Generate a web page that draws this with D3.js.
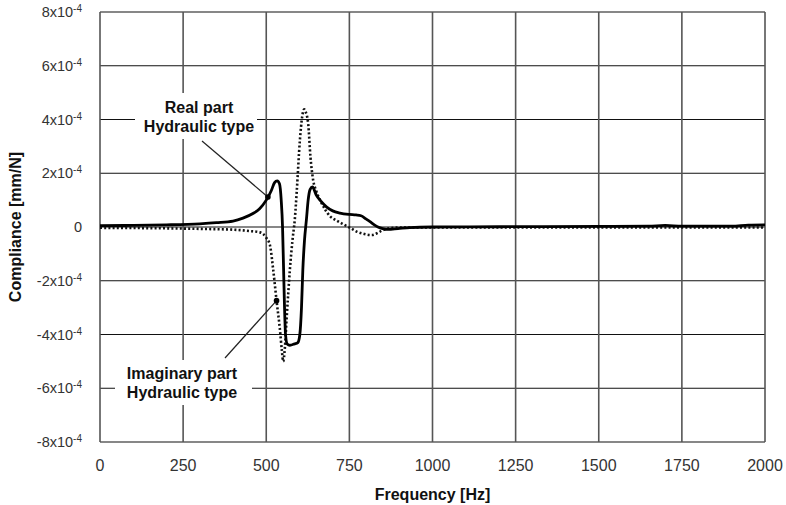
<!DOCTYPE html>
<html>
<head>
<meta charset="utf-8">
<script src="https://cdn.jsdelivr.net/npm/d3@7/dist/d3.min.js"></script>
<style>
  html, body { margin: 0; padding: 0; background: #fff; }
  svg { display: block; }
  text { font-family: Arial, "Liberation Sans", sans-serif; fill: #111; }
</style>
</head>
<body>
<svg id="chart" width="786" height="505"></svg>
<script>
// ---- Data (compliance values in units of 1e-4 mm/N) ----
const realFreq = [0,100,200,300,350,400,430,460,480,500,515,525,533,540,545,549,552,555,558,563,571,585,595,601,606,610,615,621,626,632,639,650,665,681,700,722,750,770,785,800,812,825,836,850,866,896,932,1000,1200,1500,1650,1700,1750,1900,1950,2000];
const realVal  = [0.05,0.06,0.08,0.12,0.16,0.22,0.33,0.5,0.68,1.0,1.35,1.65,1.72,1.6,1.0,0.0,-1.5,-3.0,-4.0,-4.35,-4.4,-4.35,-4.3,-4.0,-3.0,-1.6,-0.5,0.3,1.0,1.4,1.49,1.2,0.95,0.75,0.6,0.52,0.47,0.45,0.42,0.3,0.2,0.08,0.0,-0.06,-0.09,-0.06,-0.02,0.0,0.01,0.02,0.03,0.06,0.03,0.03,0.07,0.08];

const imagFreq = [0,200,300,400,450,481,500,511,521,531,541,547,551,556,561,566,571,579,586,592,601,608,614,618,626,633,641,650,662,677,692,710,732,755,772,795,817,835,847,872,900,1000,2000];
const imagVal  = [-0.03,-0.05,-0.07,-0.1,-0.15,-0.2,-0.4,-0.67,-1.6,-2.74,-3.8,-4.6,-5.0,-4.5,-3.46,-2.5,-1.6,-0.48,0.3,1.38,3.2,4.1,4.38,4.3,3.86,2.6,1.75,1.35,1.0,0.65,0.4,0.25,0.1,-0.05,-0.17,-0.26,-0.3,-0.22,-0.14,-0.04,-0.02,-0.02,-0.02];

const xTicks = [0,250,500,750,1000,1250,1500,1750,2000];
const yTicks = [8,6,4,2,0,-2,-4,-6,-8];

const realLabel = ["Real part", "Hydraulic type"];
const imagLabel = ["Imaginary part", "Hydraulic type"];
const realPointFreq = 505;
const imagPointFreq = 531;

// ---- Layout ----
const W = 786, H = 505;
const m = { left: 100, right: 21, top: 12, bottom: 63 };
const svg = d3.select("#chart");

const x = d3.scaleLinear().domain([0, 2000]).range([m.left, W - m.right]);
const y = d3.scaleLinear().domain([-8, 8]).range([H - m.bottom, m.top]);

// Grid: horizontal
svg.append("g").selectAll("line").data(yTicks).join("line")
  .attr("x1", x(0)).attr("x2", x(2000))
  .attr("y1", d => y(d)).attr("y2", d => y(d))
  .attr("stroke", "#111").attr("stroke-width", 1.2);
// Grid: vertical
svg.append("g").selectAll("line").data(xTicks).join("line")
  .attr("x1", d => x(d)).attr("x2", d => x(d))
  .attr("y1", y(8)).attr("y2", y(-8))
  .attr("stroke", "#555").attr("stroke-width", 1.6);

// Y tick labels
const yl = svg.append("g").selectAll("text").data(yTicks).join("text")
  .attr("x", 82).attr("y", d => y(d) + 5)
  .attr("text-anchor", "end").style("font-size", "14.5px").style("fill", "#333");
yl.each(function(d) {
  const t = d3.select(this);
  if (d === 0) { t.text("0"); return; }
  t.append("tspan").text(d + "x10");
  t.append("tspan").attr("dy", -5).style("font-size", "10px").text("-4");
});

// X tick labels
svg.append("g").selectAll("text").data(xTicks).join("text")
  .attr("x", d => x(d)).attr("y", 471)
  .attr("text-anchor", "middle").style("font-size", "16px").style("fill", "#333")
  .text(d => d);

// Axis titles
svg.append("text").attr("x", (x(0) + x(2000)) / 2).attr("y", 500)
  .attr("text-anchor", "middle").style("font-size", "16px").style("font-weight", "bold")
  .text("Frequency [Hz]");
svg.append("text").attr("transform", `translate(21,${(y(8) + y(-8)) / 2}) rotate(-90)`)
  .attr("text-anchor", "middle").style("font-size", "16px").style("font-weight", "bold")
  .text("Compliance [mm/N]");

// Curves
const realData = realFreq.map((f, i) => [f, realVal[i]]);
const imagData = imagFreq.map((f, i) => [f, imagVal[i]]);
const line = d3.line().x(d => x(d[0])).y(d => y(d[1])).curve(d3.curveMonotoneX);

svg.append("path").datum(imagData).attr("d", line)
  .attr("fill", "none").attr("stroke", "#111").attr("stroke-width", 2.6)
  .attr("stroke-dasharray", "2,2.2");
svg.append("path").datum(realData).attr("d", line)
  .attr("fill", "none").attr("stroke", "#000").attr("stroke-width", 2.8);

// Annotations
function valAt(fs, vs, f) {
  const i = d3.bisectLeft(fs, f);
  if (fs[i] === f) return vs[i];
  const t = (f - fs[i - 1]) / (fs[i] - fs[i - 1]);
  return vs[i - 1] + t * (vs[i] - vs[i - 1]);
}

// Real annotation
const rp = [x(realPointFreq), y(valAt(realFreq, realVal, realPointFreq))];
svg.append("rect").attr("x", 135).attr("y", 93).attr("width", 122).attr("height", 46).attr("fill", "#fff");
svg.append("line").attr("x1", 202).attr("y1", 141).attr("x2", rp[0]).attr("y2", rp[1])
  .attr("stroke", "#222").attr("stroke-width", 1.2);
svg.append("circle").attr("cx", rp[0]).attr("cy", rp[1]).attr("r", 2.8).attr("fill", "#000");
svg.append("g").selectAll("text").data(realLabel).join("text")
  .attr("x", 199).attr("y", (d, i) => 113 + i * 19)
  .attr("text-anchor", "middle").style("font-size", "16px").style("font-weight", "bold")
  .text(d => d);

// Imag annotation
const ip = [x(imagPointFreq), y(valAt(imagFreq, imagVal, imagPointFreq))];
svg.append("rect").attr("x", 115).attr("y", 360).attr("width", 137).attr("height", 45).attr("fill", "#fff");
svg.append("line").attr("x1", 225).attr("y1", 358).attr("x2", ip[0]).attr("y2", ip[1])
  .attr("stroke", "#222").attr("stroke-width", 1.2);
svg.append("circle").attr("cx", ip[0]).attr("cy", ip[1]).attr("r", 2.8).attr("fill", "#000");
svg.append("g").selectAll("text").data(imagLabel).join("text")
  .attr("x", 182).attr("y", (d, i) => 379 + i * 19)
  .attr("text-anchor", "middle").style("font-size", "16px").style("font-weight", "bold")
  .text(d => d);
</script>
</body>
</html>
